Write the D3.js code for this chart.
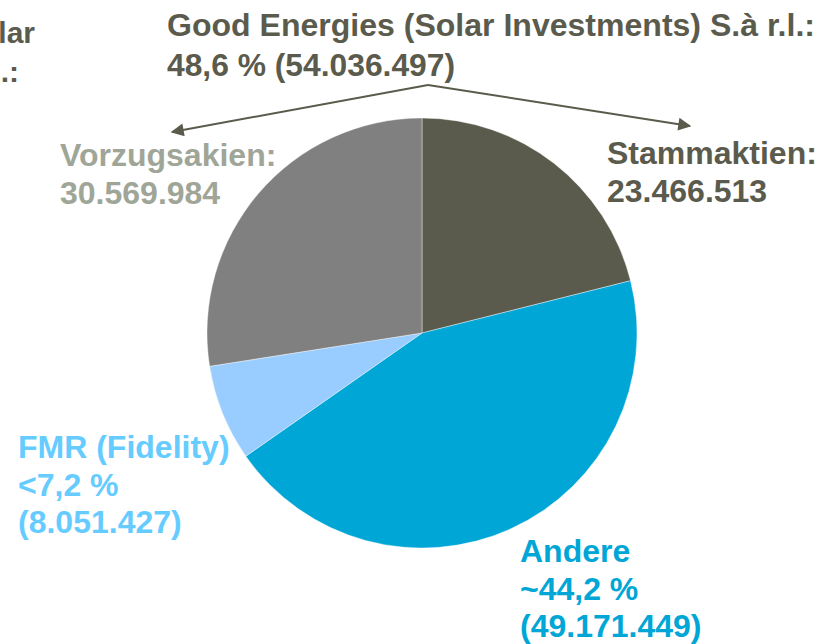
<!DOCTYPE html>
<html>
<head>
<meta charset="utf-8">
<script src="https://cdnjs.cloudflare.com/ajax/libs/d3/7.8.5/d3.min.js"></script>
<style>
  html, body { margin: 0; padding: 0; background: #fff; }
  svg { display: block; }
  text { font-family: "Liberation Sans", Arial, sans-serif; font-weight: bold; }
</style>
</head>
<body>
<div id="graph"></div>
<script>
var width = 821, height = 644;

// slices, clockwise from 12 o'clock
var categories = ["Stammaktien", "Andere", "FMR (Fidelity)", "Vorzugsakien"];
var shares = [23466513, 49171449, 8051427, 30569984];
var colors = ["#5b5b4d", "#00a6d6", "#99ccff", "#808080"];
var labelColors = ["#5b5b4d", "#00a6d6", "#66ccff", "#9fa698"];
var labelLines = [
  ["Stammaktien:", "23.466.513"],
  ["Andere", "~44,2 %", "(49.171.449)"],
  ["FMR (Fidelity)", "<7,2 %", "(8.051.427)"],
  ["Vorzugsakien:", "30.569.984"]
];
var headLines = ["Good Energies (Solar Investments) S.à r.l.:", "48,6 % (54.036.497)"];
var cutLines = ["Solar", "S.à r.l.:"];

var cx = 422, cy = 333, radius = 215;
var labelPos = [[607, 164], [520, 562], [18, 458], [60, 166]];
var lineH = 37.5;

var svg = d3.select("#graph").append("svg")
    .attr("width", width)
    .attr("height", height);

var pie = d3.pie().sort(null).value(function(d){ return d; });
var arc = d3.arc().innerRadius(0).outerRadius(radius);

svg.append("g")
    .attr("transform", "translate(" + cx + "," + cy + ")")
  .selectAll("path")
    .data(pie(shares))
    .enter().append("path")
    .attr("d", arc)
    .attr("fill", function(d, i){ return colors[i]; })
    .attr("stroke", "#fff")
    .attr("stroke-width", 0.4);

// slice labels
var labels = svg.append("g").selectAll("text")
    .data(labelLines)
    .enter().append("text")
    .attr("x", function(d, i){ return labelPos[i][0]; })
    .attr("y", function(d, i){ return labelPos[i][1]; })
    .attr("fill", function(d, i){ return labelColors[i]; })
    .style("font-size", "32px");

labels.each(function(lines, i) {
  var t = d3.select(this);
  lines.forEach(function(l, j) {
    t.append("tspan")
      .attr("x", labelPos[i][0])
      .attr("y", labelPos[i][1] + j * lineH)
      .text(l);
  });
});

// header (holder of both share classes), narrow bold in the original
var head = svg.append("text").attr("fill", "#5b5b4d").style("font-size", "31px");
head.append("tspan").attr("x", 167).attr("y", 36)
    .attr("textLength", 648).attr("lengthAdjust", "spacingAndGlyphs")
    .text(headLines[0]);
head.append("tspan").attr("x", 167).attr("y", 76)
    .attr("textLength", 288).attr("lengthAdjust", "spacingAndGlyphs")
    .text(headLines[1]);

// text cut off at the left border
svg.append("text").attr("fill", "#5b5b4d").style("font-size", "30px")
    .attr("x", 35).attr("y", 43).attr("text-anchor", "end").text(cutLines[0]);
svg.append("text").attr("fill", "#5b5b4d").style("font-size", "30px")
    .attr("x", 19).attr("y", 82).attr("text-anchor", "end").text(cutLines[1]);

// arrows
svg.append("defs").append("marker")
    .attr("id", "arrow")
    .attr("viewBox", "0 0 10 10")
    .attr("refX", 9).attr("refY", 5)
    .attr("markerWidth", 17).attr("markerHeight", 13)
    .attr("markerUnits", "userSpaceOnUse")
    .attr("orient", "auto")
  .append("path")
    .attr("d", "M0,0 L10,5 L0,10 Z")
    .attr("fill", "#5b5b4d");

var apex = [428, 85];
[[172, 132], [690, 126]].forEach(function(tip) {
  svg.append("line")
    .attr("x1", apex[0]).attr("y1", apex[1])
    .attr("x2", tip[0]).attr("y2", tip[1])
    .attr("stroke", "#5b5b4d")
    .attr("stroke-width", 2)
    .attr("marker-end", "url(#arrow)");
});
</script>
</body>
</html>
